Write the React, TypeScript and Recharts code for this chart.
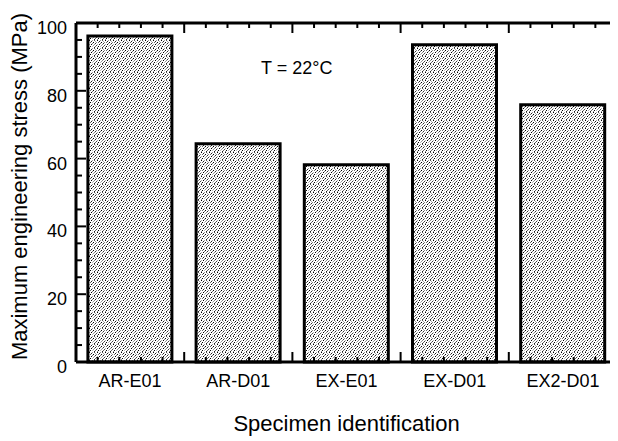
import React from 'react';
import { BarChart, Bar, XAxis, YAxis, ReferenceDot } from 'recharts';

// specimen names (bottom tick labels) and measured max stress (MPa)
const specimens = ['AR-E01', 'AR-D01', 'EX-E01', 'EX-D01', 'EX2-D01'];
const maxStress = [96.2, 64.4, 58.2, 93.6, 75.9];

// y ticks: minor every 5, labelled every 20
const yTicks = [0, 5, 10, 15, 20, 25, 30, 35, 40, 45, 50, 55, 60, 65, 70, 75, 80, 85, 90, 95, 100];
// x tick positions on a 0..25 helper scale (5 units per specimen), plus label centres
const xTickMarks = [0, 1, 2, 3, 4, 5, 6, 7, 8, 9, 10, 11, 12, 13, 14, 15, 16, 17, 18, 19, 20, 21, 22, 23, 24, 25];
const xLabelPos = [2.5, 7.5, 12.5, 17.5, 22.5];

const FONT = '"Liberation Sans", Arial, Helvetica, sans-serif';

const data = specimens.map((name, i) => ({ name, stress: maxStress[i], slot: i * 5 + 2.5 }));

// speckle pixels for the bar fill tile (x, y, grey)
const speckle: [number, number, string][] = [
  [1, 0, '#000'], [4, 0, '#999'], [6, 0, '#555'],
  [3, 1, '#222'], [7, 1, '#aaa'],
  [0, 2, '#888'], [2, 2, '#666'], [5, 2, '#000'],
  [4, 3, '#777'], [7, 3, '#333'],
  [1, 4, '#aaa'], [3, 4, '#000'], [6, 4, '#888'],
  [0, 5, '#444'], [5, 5, '#999'],
  [2, 6, '#000'], [4, 6, '#bbb'], [7, 6, '#666'],
  [1, 7, '#888'], [6, 7, '#222'],
];

const BottomTick = (props: any) => {
  const { x, y, payload } = props;
  const v = payload.value;
  const idx = xLabelPos.indexOf(v);
  if (idx >= 0) {
    return (
      <text x={x} y={y + 25} textAnchor="middle" fontSize={18} fontFamily={FONT} fill="#000">
        {specimens[idx]}
      </text>
    );
  }
  const len = v % 5 === 0 ? 10 : 5;
  return <path d={`M${x},${y}V${y - len}`} stroke="#000" strokeWidth={2} fill="none" />;
};

const TopTick = (props: any) => {
  const { x, y, payload } = props;
  const len = payload.value % 5 === 0 ? 10 : 5;
  return <path d={`M${x},${y}V${y + len}`} stroke="#000" strokeWidth={2} fill="none" />;
};

const LeftTick = (props: any) => {
  const { x, y, payload } = props;
  const major = payload.value % 20 === 0;
  return (
    <g>
      <path d={`M${x},${y}H${x + (major ? 10 : 6)}`} stroke="#000" strokeWidth={2} fill="none" />
      {major && (
        <text x={x - 9} y={y + 11} textAnchor="end" fontSize={18} fontFamily={FONT} fill="#000">
          {payload.value}
        </text>
      )}
    </g>
  );
};

const RightTick = (props: any) => {
  const { x, y, payload } = props;
  const len = payload.value % 20 === 0 ? 9 : 5;
  return <path d={`M${x},${y}H${x - len}`} stroke="#000" strokeWidth={2} fill="none" />;
};

const axisLine = { stroke: '#000', strokeWidth: 3 };

export default function App() {
  return (
    <div style={{ width: 610, height: 433, background: '#fff' }}>
      <BarChart
        width={610}
        height={433}
        data={data}
        margin={{ top: 0, right: 0, bottom: 0, left: 0 }}
        barCategoryGap="11%"
      >
        <defs>
          <pattern id="stipple" width={8} height={8} patternUnits="userSpaceOnUse" shapeRendering="crispEdges">
            <rect x={0} y={0} width={8} height={8} fill="#fff" />
            {speckle.map(([px, py, c], i) => (
              <rect key={i} x={px} y={py} width={1} height={1} fill={c} />
            ))}
          </pattern>
        </defs>
        <XAxis xAxisId="cat" dataKey="name" hide />
        <Bar
          xAxisId="cat"
          dataKey="stress"
          fill="url(#stipple)"
          stroke="#000"
          strokeWidth={3}
          isAnimationActive={false}
        />
        <XAxis
          xAxisId="bx"
          dataKey="slot"
          type="number"
          orientation="bottom"
          domain={[0, 25]}
          allowDataOverflow
          ticks={[...xTickMarks, ...xLabelPos]}
          interval={0}
          height={79}
          tickSize={0}
          tickMargin={0}
          axisLine={axisLine}
          tickLine={false}
          tick={BottomTick}
          label={{
            content: (p: any) => {
              const vb = p.viewBox;
              return (
                <text x={vb.x + vb.width / 2} y={vb.y + 69} textAnchor="middle" fontSize={22} fontFamily={FONT} fill="#000">
                  Specimen identification
                </text>
              );
            },
          }}
        />
        <XAxis
          xAxisId="tx"
          dataKey="slot"
          type="number"
          orientation="top"
          domain={[0, 25]}
          allowDataOverflow
          ticks={xTickMarks}
          interval={0}
          height={15}
          tickSize={0}
          tickMargin={0}
          axisLine={axisLine}
          tickLine={false}
          tick={TopTick}
        />
        <YAxis
          domain={[0, 100]}
          ticks={yTicks}
          interval={0}
          width={68}
          tickSize={0}
          tickMargin={0}
          axisLine={axisLine}
          tickLine={false}
          tick={LeftTick}
          label={{
            content: (p: any) => {
              const vb = p.viewBox;
              const cx = vb.x + 19;
              const cy = vb.y + vb.height / 2 - 6;
              return (
                <text
                  x={cx}
                  y={cy}
                  transform={`rotate(-90 ${cx} ${cy})`}
                  textAnchor="middle"
                  fontSize={22}
                  fontFamily={FONT}
                  fill="#000"
                >
                  Maximum engineering stress (MPa)
                </text>
              );
            },
          }}
        />
        <YAxis
          yAxisId="ry"
          orientation="right"
          domain={[0, 100]}
          ticks={yTicks}
          interval={0}
          width={1}
          tickSize={0}
          tickMargin={0}
          axisLine={axisLine}
          tickLine={false}
          tick={RightTick}
        />
        <ReferenceDot
          xAxisId="tx"
          x={10.2}
          y={85}
          ifOverflow="visible"
          shape={(p: any) => (
            <text x={p.cx} y={p.cy} textAnchor="middle" fontSize={18} fontFamily={FONT} fill="#000">
              T = 22°C
            </text>
          )}
        />
      </BarChart>
    </div>
  );
}
